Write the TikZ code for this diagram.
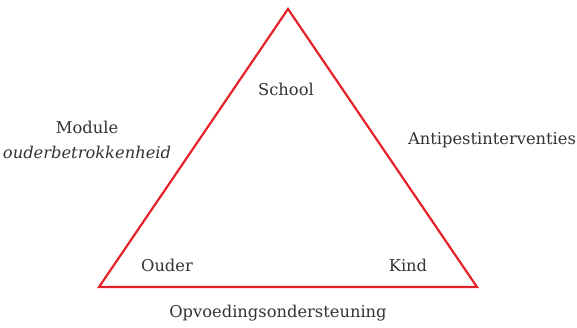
\documentclass[tikz,border=0pt]{standalone}
\usepackage{fontspec}
\setmainfont{DejaVu Serif}
\definecolor{triangelrood}{HTML}{E62229}
\definecolor{tekstgrijs}{HTML}{333333}
\begin{document}
\begin{tikzpicture}[x=1pt,y=-1pt,
  label/.style={text=tekstgrijs,font=\fontsize{16.3}{25}\selectfont,inner sep=0pt,align=center}]

  \useasboundingbox (0,0) rectangle (577,327);

  \coordinate (top) at (288,9); %BOVEN
  \coordinate (links) at (99,287); %LINKS
  \coordinate (rechts) at (477,287); %RECHTS

  \draw[triangelrood,line width=2.2pt,line join=miter] (top) -- (links) -- (rechts) -- cycle;

  \node[label] (school) at (286,89) {School};
  \node[label] (ouder) at (167,265) {Ouder};
  \node[label] (kind) at (408,265) {Kind};
  \node[label] (module) at (87,140) {Module\\\textit{ouderbetrokkenheid}};
  \node[label] (antipest) at (492,140) {Antipestinterventies};
  \node[label] (opvoeding) at (278,313) {Opvoedingsondersteuning};

\end{tikzpicture}
\end{document}
